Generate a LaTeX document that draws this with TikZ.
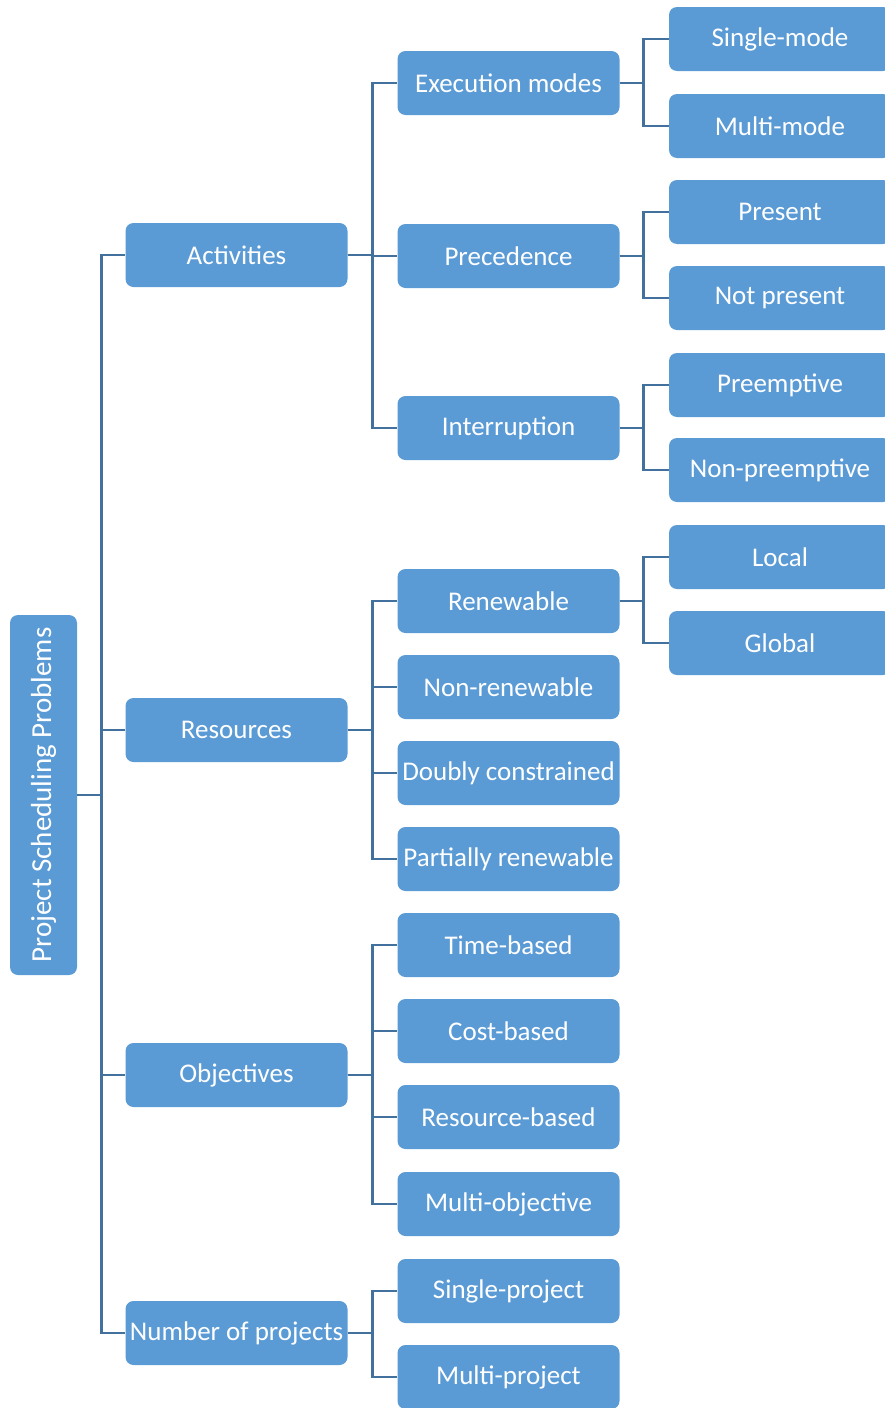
\documentclass[tikz,border=0pt]{standalone}
\usepackage{fontspec}
\setmainfont{Carlito}
\usepackage{tikz}
\definecolor{boxblue}{HTML}{5B9BD5}
\definecolor{linkblue}{HTML}{41719C}
\tikzset{
  box/.style={fill=boxblue, rounded corners=8pt, text=white, inner sep=0pt,
    minimum width=222pt, minimum height=64pt, font=\fontsize{27}{31}\selectfont},
  link/.style={draw=linkblue, line width=2.8pt}
}

\begin{document}
\begin{tikzpicture}[x=1pt, y=-1pt]
        \useasboundingbox (0,0) rectangle (884,1408);
        % Root
        \node[box, rotate=90, minimum width=360pt, minimum height=67pt, font=\fontsize{29}{33}\selectfont] (psp) at (43.5,795) {Project Scheduling Problems};
        % First level
        \node[box] (act) at (236.5,255) {Activities};
        \node[box] (res) at (236.5,730) {Resources};
        \node[box] (obj) at (236.5,1075) {Objectives};
        \node[box] (nop) at (236.5,1333) {Number of projects};
        % Second level
        \node[box] (exe) at (508.5,83) {Execution modes};
        \node[box] (pre) at (508.5,256) {Precedence};
        \node[box] (int) at (508.5,428) {Interruption};
        \node[box] (ren) at (508.5,601) {Renewable};
        \node[box] (nren) at (508.5,687) {Non-renewable};
        \node[box] (dbl) at (508.5,773) {Doubly constrained};
        \node[box] (par) at (508.5,859) {Partially renewable};
        \node[box] (tim) at (508.5,945) {Time-based};
        \node[box] (cst) at (508.5,1031) {Cost-based};
        \node[box] (rsb) at (508.5,1117) {Resource-based};
        \node[box] (mob) at (508.5,1204) {Multi-objective};
        \node[box] (spr) at (508.5,1291) {Single-project};
        \node[box] (mpr) at (508.5,1377) {Multi-project};
        % Third level
        \node[box] (smo) at (780,39) {Single-mode};
        \node[box] (mmo) at (780,126) {Multi-mode};
        \node[box] (prs) at (780,212) {Present};
        \node[box] (npr) at (780,298) {Not present};
        \node[box] (pem) at (780,385) {Preemptive};
        \node[box] (npe) at (780,470) {Non-preemptive};
        \node[box] (loc) at (780,557) {Local};
        \node[box] (glo) at (780,643) {Global};
        % Connectors
        \foreach \c in {act,res,obj,nop}
          \draw[link] (psp.south) -- ++(24,0) |- (\c.west);
        \foreach \c in {exe,pre,int}
          \draw[link] (act.east) -- ++(25,0) |- (\c.west);
        \foreach \c in {ren,nren,dbl,par}
          \draw[link] (res.east) -- ++(25,0) |- (\c.west);
        \foreach \c in {tim,cst,rsb,mob}
          \draw[link] (obj.east) -- ++(25,0) |- (\c.west);
        \foreach \c in {spr,mpr}
          \draw[link] (nop.east) -- ++(25,0) |- (\c.west);
        \draw[link] (exe.east) -- ++(24,0) |- (smo.west);
        \draw[link] (exe.east) -- ++(24,0) |- (mmo.west);
        \draw[link] (pre.east) -- ++(24,0) |- (prs.west);
        \draw[link] (pre.east) -- ++(24,0) |- (npr.west);
        \draw[link] (int.east) -- ++(24,0) |- (pem.west);
        \draw[link] (int.east) -- ++(24,0) |- (npe.west);
        \draw[link] (ren.east) -- ++(24,0) |- (loc.west);
        \draw[link] (ren.east) -- ++(24,0) |- (glo.west);
\end{tikzpicture}
\end{document}
